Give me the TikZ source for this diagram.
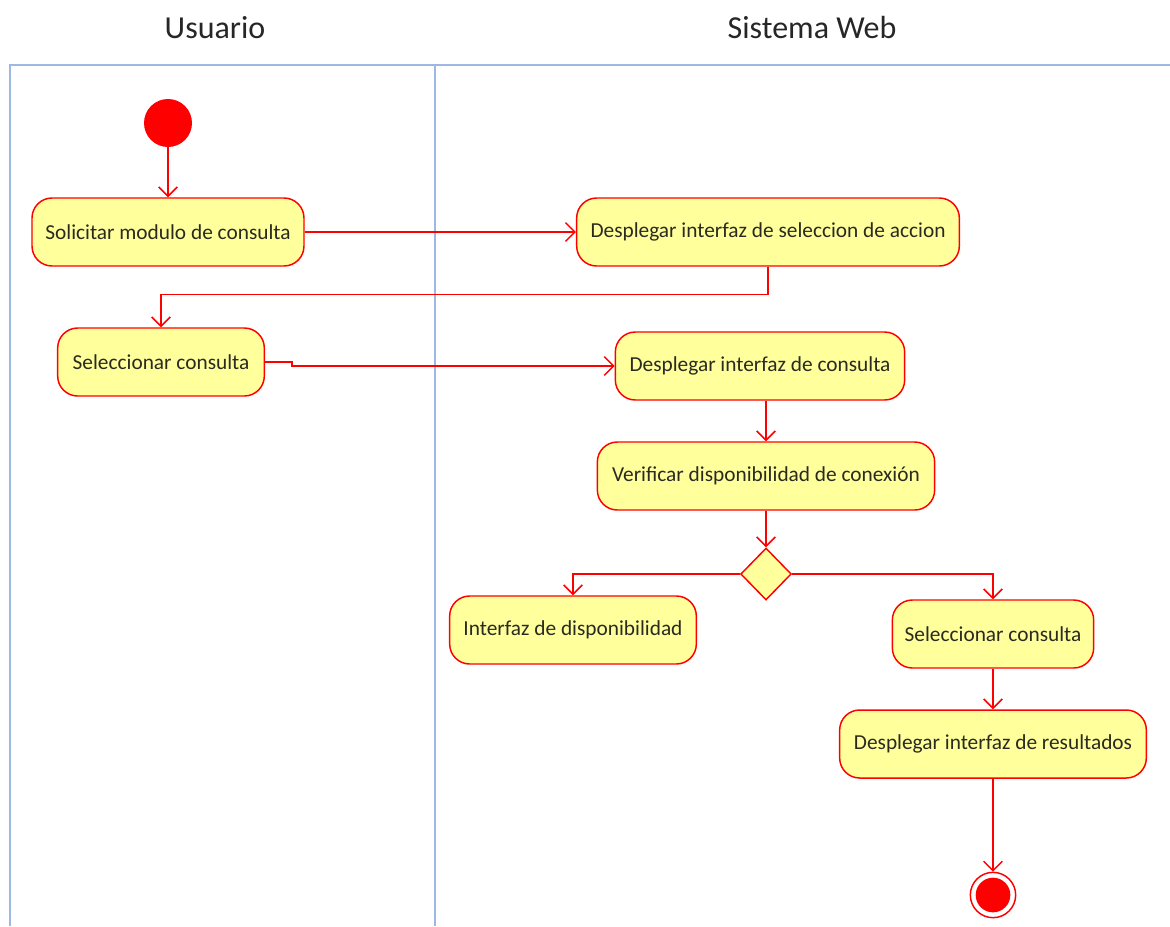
\documentclass[tikz,border=0pt]{standalone}
\usepackage{fontspec}
\setmainfont{Carlito}
\usetikzlibrary{arrows.meta,shapes.geometric}
\definecolor{flowred}{HTML}{FF0000}
\definecolor{actfill}{HTML}{FFFF9C}
\definecolor{lanecol}{HTML}{9DB9E3}
\definecolor{txtcol}{HTML}{2A2A20}
\tikzset{
  act/.style={draw=flowred, fill=actfill, line width=1.1pt, rounded corners=15pt,
    minimum height=51pt, inner sep=0pt, text=txtcol, font=\fontsize{16}{19}\selectfont},
  flow/.style={draw=flowred, line width=1.1pt, -{Straight Barb[length=7pt,width=14pt,line width=1.1pt]}},
  lane/.style={draw=lanecol, line width=1.2pt},
  lanetitle/.style={font=\fontsize{24}{28}\selectfont, text=black!85},
  startnode/.style={circle, fill=flowred, minimum size=36pt, inner sep=0pt},
  endnode/.style={circle, draw=flowred, line width=1.1pt, fill=white, minimum size=34pt, inner sep=0pt,
    path picture={\fill[flowred] (path picture bounding box.center) circle (13pt);}},
  decision/.style={diamond, draw=flowred, fill=actfill, line width=1.1pt, minimum width=38pt, minimum height=39pt, inner sep=0pt}
}
\begin{document}
\begin{tikzpicture}[x=0.75pt,y=-0.75pt]
  \useasboundingbox (0,0) rectangle (1170,926);

  % swimlanes
  \draw[lane] (10,926) -- (10,65) -- (1170,65);
  \draw[lane] (435,65) -- (435,926);
  \node[lanetitle] (tu) at (215,28) {Usuario};
  \node[lanetitle] (ts) at (812,28) {Sistema Web};

  % nodes
  \node[startnode] (ini) at (168,123) {};
  \node[act, minimum width=204pt] (solic) at (168,232) {Solicitar modulo de consulta};
  \node[act, minimum width=287pt] (despsel) at (768,232) {Desplegar interfaz de seleccion de accion};
  \node[act, minimum width=155pt] (selc) at (161,362) {Seleccionar consulta};
  \node[act, minimum width=217pt] (despcon) at (760,366) {Desplegar interfaz de consulta};
  \node[act, minimum width=253pt] (verif) at (766,476) {Verificar disponibilidad de conexión};
  \node[decision] (dec) at (766,574) {};
  \node[act, minimum width=185pt] (disp) at (573,630) {Interfaz de disponibilidad};
  \node[act, minimum width=151pt] (selc2) at (993,634) {Seleccionar consulta};
  \node[act, minimum width=230pt] (despres) at (993,744) {Desplegar interfaz de resultados};
  \node[endnode] (fin) at (993,895) {};

  % flows
  \draw[flow] (ini) -- (solic);
  \draw[flow] (solic) -- (despsel);
  \draw[flow] (despsel.south) -- ++(0,28) -| (selc.north);
  \draw[flow] (selc.east) -- ++(27,0) |- (despcon.west);
  \draw[flow] (despcon.south -| verif.north) -- (verif.north);
  \draw[flow] (verif) -- (dec);
  \draw[flow] (dec.west) -| (disp.north);
  \draw[flow] (dec.east) -| (selc2.north);
  \draw[flow] (selc2) -- (despres);
  \draw[flow] (despres) -- (fin);
\end{tikzpicture}
\end{document}
